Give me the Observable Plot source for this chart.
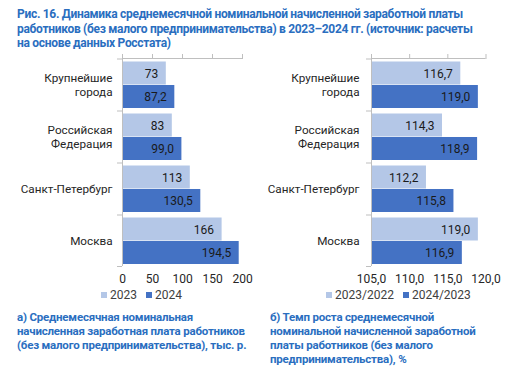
<!DOCTYPE html>
<html><head><meta charset="utf-8">
<script src="https://cdn.jsdelivr.net/npm/d3@7"></script>
<script src="https://cdn.jsdelivr.net/npm/@observablehq/plot@0.6"></script>
<style>
body{margin:0;background:#fff;width:531px;height:372px;position:relative;overflow:hidden;font-family:Roboto,sans-serif}
.title{position:absolute;left:17px;top:7px;font-weight:bold;font-size:12px;line-height:14.5px;letter-spacing:-0.3px;color:#2a6ebf;white-space:nowrap}
.cap{position:absolute;top:310px;font-weight:bold;font-size:11.5px;line-height:14px;letter-spacing:-0.2px;color:#2a6ebf;white-space:nowrap}
.leg{position:absolute;top:288px;font-size:12px;color:#404040;display:flex;align-items:center;white-space:nowrap}
.sw{display:inline-block;width:6px;height:6px;margin-right:3px}
.item{display:flex;align-items:center;margin-right:9px}
</style></head><body>
<div class="title">Рис. 16. Динамика среднемесячной номинальной начисленной заработной платы<br>работников (без малого предпринимательства) в 2023–2024 гг. (источник: расчеты<br>на основе данных Росстата)</div>
<div id="left" style="position:absolute;left:0;top:50px"></div>
<div id="right" style="position:absolute;left:265px;top:50px"></div>
<div id="legL" class="leg" style="left:101px"></div>
<div id="legR" class="leg" style="left:326px"></div>
<div class="cap" style="left:17px">а) Среднемесячная номинальная<br>начисленная заработная плата работников<br>(без малого предпринимательства), тыс. р.</div>
<div class="cap" style="left:270px">б) Темп роста среднемесячной<br>номинальной начисленной заработной<br>платы работников (без малого<br>предпринимательства), %</div>
<script>
const categories = ["Крупнейшие\nгорода", "Российская\nФедерация", "Санкт-Петербург", "Москва"];
const wage2023 = [73, 83, 113, 166];
const wage2024 = [87.2, 99.0, 130.5, 194.5];
const seriesLeft = ["2023", "2024"];
const growth2023 = [116.7, 114.3, 112.2, 119.0];
const growth2024 = [119.0, 118.9, 115.8, 116.9];
const seriesRight = ["2023/2022", "2024/2023"];
const ticksLeft = [0, 50, 100, 150, 200];
const ticksRight = [105, 110, 115, 120];

const LIGHT = "#b4c7e7", DARK = "#4472c4", AXIS = "#bfbfbf";
const comma = v => v.toFixed(1).replace(".", ",");

function chart({v1, v2, f1, f2, domain, ticks, tickFmt, width, marginLeft, marginRight, pad}) {
  const r1 = categories.map((c, i) => ({c, v: v1[i]}));
  const r2 = categories.map((c, i) => ({c, v: v2[i]}));
  const half = 26;
  return Plot.plot({
    width, height: 238, marginTop: 8, marginBottom: 22, marginLeft, marginRight,
    x: {domain},
    y: {domain: categories, padding: 0},
    style: {fontFamily: "Roboto, sans-serif", fontSize: "12px", color: "#262626", overflow: "visible", background: "transparent"},
    marks: [
      Plot.barX(r1, {x1: domain[0], x2: "v", y: "c", fill: LIGHT, insetTop: 3.5, insetBottom: 25.5}),
      Plot.barX(r2, {x1: domain[0], x2: "v", y: "c", fill: DARK, insetTop: 27, insetBottom: 2}),
      Plot.text(r1, {x: "v", y: "c", text: d => f1(d.v), textAnchor: "end", dx: -8, dy: -10.5, fill: "#1a1a1a", fontSize: 12}),
      Plot.text(r2, {x: "v", y: "c", text: d => f2(d.v), textAnchor: "end", dx: -8, dy: 13, fill: "#1a1a1a", fontSize: 12}),
      Plot.ruleY([categories[0]], {dy: -half, stroke: AXIS}),
      Plot.ruleY(categories, {dy: -half + 0.5, stroke: AXIS, insetLeft: -5, insetRight: width - marginLeft - marginRight}),
      Plot.ruleY([categories[categories.length - 1]], {dy: half, stroke: AXIS, insetLeft: -5, insetRight: width - marginLeft - marginRight}),
      Plot.ruleX([domain[0]], {stroke: AXIS}),
      Plot.axisX({anchor: "top", ticks, tickSize: 5, tickFormat: () => "", label: null, stroke: AXIS}),
      Plot.axisX({anchor: "bottom", ticks, tickSize: 0, tickPadding: 8, tickFormat: tickFmt, label: null, fontSize: 12, fill: "#262626"}),
      Plot.axisY({tickSize: 0, tickPadding: pad, label: null, lineHeight: 1.2, fontSize: 11.7, fill: "#262626"})
    ]
  });
}

document.getElementById("left").append(chart({
  v1: wage2023, v2: wage2024, f1: v => String(v), f2: comma,
  domain: [0, 200], ticks: ticksLeft, tickFmt: d => String(d),
  width: 265, marginLeft: 122, marginRight: 23, pad: 10
}));
document.getElementById("right").append(chart({
  v1: growth2023, v2: growth2024, f1: comma, f2: comma,
  domain: [105, 120], ticks: ticksRight, tickFmt: comma,
  width: 266, marginLeft: 106, marginRight: 45.5, pad: 12
}));

function legend(el, names) {
  const node = document.getElementById(el);
  names.forEach((n, i) => {
    const it = document.createElement("span");
    it.className = "item";
    it.innerHTML = `<span class="sw" style="background:${i ? DARK : LIGHT}"></span>${n}`;
    node.append(it);
  });
}
legend("legL", seriesLeft);
legend("legR", seriesRight);
</script>
</body></html>
